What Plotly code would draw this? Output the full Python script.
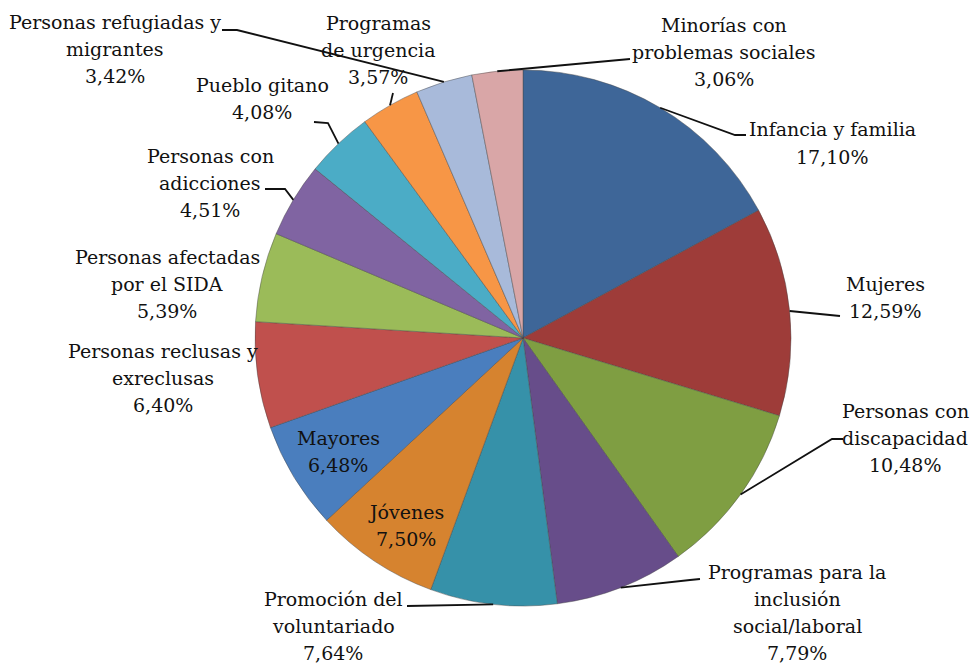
import math
import plotly.graph_objects as go

# ---- data ----
categories = [
    "Infancia y familia", "Mujeres", "Personas con discapacidad",
    "Programas para la inclusión social/laboral", "Promoción del voluntariado",
    "Jóvenes", "Mayores", "Personas reclusas y exreclusas",
    "Personas afectadas por el SIDA", "Personas con adicciones",
    "Pueblo gitano", "Programas de urgencia",
    "Personas refugiadas y migrantes", "Minorías con problemas sociales",
]
label_lines = [
    ["Infancia y familia"], ["Mujeres"], ["Personas con", "discapacidad"],
    ["Programas para la", "inclusión", "social/laboral"], ["Promoción del", "voluntariado"],
    ["Jóvenes"], ["Mayores"], ["Personas reclusas y", "exreclusas"],
    ["Personas afectadas", "por el SIDA"], ["Personas con", "adicciones"],
    ["Pueblo gitano"], ["Programas", "de urgencia"],
    ["Personas refugiadas y", "migrantes"], ["Minorías con", "problemas sociales"],
]
values = [17.10, 12.59, 10.48, 7.79, 7.64, 7.50, 6.48, 6.40, 5.39, 4.51, 4.08, 3.57, 3.42, 3.06]
colors = ["#3E6698", "#9E3C39", "#7F9E42", "#674D8A", "#3691A9", "#D6832F", "#4A7EBE",
          "#C0504D", "#9BBB59", "#8064A2", "#4BACC6", "#F79646", "#A8BADA", "#D9A6A7"]

# ---- layout constants (pixels) ----
W, H = 973, 666
CX, CY, R = 523, 338, 268
LINE_H = 27
FONT = dict(family="DejaVu Serif", size=19, color="#111111")

# label block centres (px) and leader path points after the slice anchor (px)
label_pos = [
    (832, 143), (885, 297), (905, 438), (797, 612), (333, 626),
    (406, 525), (338, 451), (163, 378), (167, 284), (210, 183),
    (262, 98), (378, 50), (115, 49), (724, 52),
]
leaders = [
    [(735, 135), (746, 135)],
    [(840, 316)],
    [(832, 439), (843, 439)],
    [(690, 580), (700, 579)],
    [(407, 606)],
    None, None, None, None,
    [(285, 189), (265, 189)],
    [(328, 123), (314, 122)],
    [(393, 93)],
    [(237, 30), (222, 30)],
    [(630, 59)],
]


def px2paper(x, y):
    return x / W, 1 - y / H


fig = go.Figure()
fig.add_trace(go.Pie(
    labels=categories, values=values, sort=False, direction="clockwise", rotation=0,
    marker=dict(colors=colors, line=dict(color="rgba(70,70,70,0.55)", width=0.8)),
    textinfo="none", hoverinfo="label+percent", showlegend=False,
    domain=dict(x=[(CX - R) / W, (CX + R) / W], y=[1 - (CY + R) / H, 1 - (CY - R) / H]),
))

total = sum(values)
cum = 0.0
annotations = []
shapes = []
for i, v in enumerate(values):
    mid = (cum + v / 2) / total
    cum += v
    th = 2 * math.pi * mid
    ax, ay = CX + R * math.sin(th), CY - R * math.cos(th)
    pct = f"{v:.2f}".replace(".", ",") + "%"
    lines = label_lines[i] + [pct]
    lx, ly = label_pos[i]
    n = len(lines)
    for k, t in enumerate(lines):
        x, y = px2paper(lx, ly + (k - (n - 1) / 2) * LINE_H)
        annotations.append(dict(
            x=x, y=y, xref="paper", yref="paper", xanchor="center", yanchor="middle",
            text=t, showarrow=False, align="center", font=FONT,
        ))
    if leaders[i]:
        pts = [(ax, ay)] + leaders[i]
        path = ""
        for j, (px, py) in enumerate(pts):
            qx, qy = px2paper(px, py)
            path += ("M " if j == 0 else " L ") + f"{qx:.5f},{qy:.5f}"
        shapes.append(dict(type="path", path=path, xref="paper", yref="paper",
                           line=dict(color="#111111", width=1.8)))

fig.update_layout(
    width=W, height=H, margin=dict(l=0, r=0, t=0, b=0),
    paper_bgcolor="white", plot_bgcolor="white",
    annotations=annotations, shapes=shapes,
)
fig.write_html("out.html")
